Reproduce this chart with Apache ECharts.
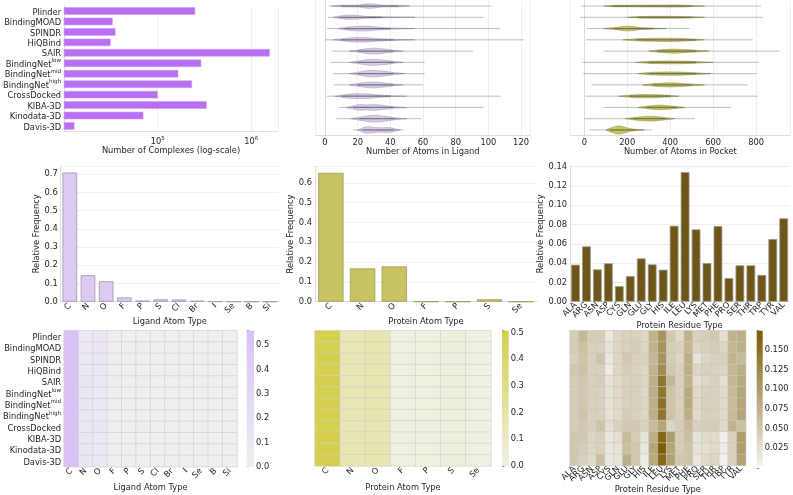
<!DOCTYPE html>
<html><head><meta charset="utf-8">
<script src="https://cdn.jsdelivr.net/npm/echarts@6/dist/echarts.min.js"></script>
<style>html,body{margin:0;padding:0;background:#fff}#c{width:793px;height:495px}</style>
</head><body><div id="c"></div>
<script>
// ---------------- DATA ----------------
const datasets = ['Plinder','BindingMOAD','SPINDR','HiQBind','SAIR','BindingNet^low','BindingNet^mid','BindingNet^high','CrossDocked','KIBA-3D','Kinodata-3D','Davis-3D'];
const complexCounts = [252000, 33000, 35400, 31400, 1580000, 292000, 166000, 233000, 100000, 334000, 70300, 12900];

// violin summaries: whisker extent and profile [value, relative half-width]
const ligandMin = [2.4, 1.8, 1.2, 0, 4, 3.5, 5, 5.5, 1.2, 8.6, 6.5, 17];
const ligandMax = [102, 97, 107, 122, 90.6, 61, 61, 60, 107.6, 97, 59, 48];
const ligandProfiles = [
  [[4,0],[10,0.14],[20,0.16],[25,0.36],[28,0.41],[31,0.32],[35,0.16],[45,0.14],[52,0]],
  [[5,0],[9,0.23],[14,0.36],[20,0.32],[24,0.18],[35,0.11],[55,0]],
  [[8,0],[12,0.21],[20,0.41],[27,0.41],[33,0.23],[40,0.11],[55,0]],
  [[5,0],[10,0.18],[17,0.39],[25,0.39],[33,0.21],[42,0.11],[55,0]],
  [[15,0],[20,0.18],[26,0.46],[30,0.52],[35,0.41],[42,0.18],[48,0]],
  [[15,0],[20,0.21],[26,0.48],[30,0.52],[35,0.43],[42,0.18],[48,0]],
  [[15,0],[20,0.25],[26,0.53],[30,0.57],[35,0.46],[42,0.2],[49,0]],
  [[15,0],[20,0.23],[26,0.48],[30,0.52],[35,0.41],[42,0.18],[48,0]],
  [[6,0],[10,0.18],[16,0.39],[22,0.43],[27,0.39],[33,0.21],[40,0.09],[50,0]],
  [[13,0],[17,0.25],[21,0.5],[25,0.44],[30,0.5],[36,0.36],[42,0.14],[50,0]],
  [[16,0],[21,0.27],[27,0.53],[31,0.59],[36,0.46],[43,0.18],[50,0]],
  [[20,0],[23,0.36],[26,0.59],[30,0.44],[35,0.39],[39,0.43],[42,0.28],[46,0]]
];
const pocketMin = [-15, -20, 14, 8, 89, -9, -5, 34, 5, 89, 2, 24];
const pocketMax = [823, 831, 490, 785, 909, 812, 803, 761, 808, 683, 516, 314];
const pocketProfiles = [
  [[90,0],[130,0.11],[200,0.12],[300,0.16],[400,0.18],[460,0.16],[500,0.09],[560,0]],
  [[200,0],[250,0.12],[330,0.18],[420,0.16],[500,0.11],[560,0]],
  [[90,0],[140,0.18],[180,0.36],[200,0.43],[225,0.36],[260,0.18],[320,0.07],[380,0]],
  [[180,0],[240,0.18],[320,0.27],[380,0.3],[440,0.25],[520,0.11],[560,0]],
  [[300,0],[340,0.18],[390,0.32],[420,0.36],[460,0.28],[520,0.16],[580,0]],
  [[240,0],[300,0.18],[360,0.23],[400,0.25],[450,0.23],[520,0.14],[600,0]],
  [[250,0],[300,0.2],[360,0.28],[400,0.3],[450,0.27],[520,0.14],[590,0]],
  [[270,0],[320,0.21],[370,0.34],[400,0.37],[440,0.3],[500,0.16],[560,0]],
  [[160,0],[210,0.18],[260,0.28],[300,0.3],[350,0.23],[400,0.12],[440,0]],
  [[250,0],[290,0.21],[330,0.37],[355,0.41],[390,0.32],[430,0.16],[470,0]],
  [[190,0],[230,0.21],[280,0.37],[310,0.43],[340,0.36],[380,0.18],[420,0]],
  [[100,0],[120,0.32],[150,0.67],[165,0.71],[185,0.53],[210,0.27],[240,0.11],[280,0]]
];

const ligandAtomTypes = ['C','N','O','F','P','S','Cl','Br','I','Se','B','Si'];
const ligandAtomFreq = [0.709,0.145,0.112,0.023,0.006,0.013,0.012,0.005,0.001,0.0002,0.0003,0.0002];
const proteinAtomTypes = ['C','N','O','F','P','S','Se'];
const proteinAtomFreq = [0.650,0.168,0.178,0.0005,0.0003,0.012,0.0001];
const residueTypes = ['ALA','ARG','ASN','ASP','CYS','GLN','GLU','GLY','HIS','ILE','LEU','LYS','MET','PHE','PRO','SER','THR','TRP','TYR','VAL'];
const residueFreq = [0.0384,0.0574,0.0335,0.0398,0.0162,0.0266,0.0449,0.0387,0.0332,0.0788,0.1345,0.0750,0.0401,0.0785,0.0245,0.0377,0.0377,0.0277,0.0650,0.0864];

const ligandHeat = [
  [0.55,0.08,0.09,0.012,0.002,0.006,0.005,0.001,0.0005,0,0,0],
  [0.55,0.085,0.095,0.010,0.003,0.007,0.005,0.001,0.0005,0,0,0],
  [0.56,0.08,0.09,0.011,0.002,0.006,0.005,0.001,0.0005,0,0,0],
  [0.55,0.085,0.095,0.012,0.002,0.006,0.005,0.001,0.0005,0,0,0],
  [0.54,0.09,0.08,0.014,0.001,0.007,0.006,0.001,0.0003,0,0,0],
  [0.55,0.09,0.08,0.012,0.001,0.006,0.006,0.001,0.0003,0,0,0],
  [0.55,0.09,0.08,0.012,0.001,0.006,0.006,0.001,0.0003,0,0,0],
  [0.55,0.09,0.08,0.012,0.001,0.006,0.006,0.001,0.0003,0,0,0],
  [0.55,0.08,0.09,0.012,0.002,0.007,0.005,0.001,0.0005,0,0,0],
  [0.54,0.09,0.075,0.012,0.001,0.006,0.006,0.001,0.0003,0,0,0],
  [0.55,0.09,0.075,0.012,0.001,0.006,0.006,0.001,0.0003,0,0,0],
  [0.55,0.09,0.07,0.013,0.001,0.005,0.005,0.001,0.0003,0,0,0]
];
const proteinHeat = [
  [0.495,0.155,0.165,0.002,0.002,0.012,0.001],
  [0.495,0.155,0.17,0.002,0.002,0.012,0.001],
  [0.50,0.155,0.165,0.002,0.002,0.011,0.001],
  [0.495,0.155,0.17,0.002,0.002,0.012,0.001],
  [0.50,0.155,0.165,0.002,0.002,0.012,0.001],
  [0.50,0.155,0.165,0.002,0.002,0.012,0.001],
  [0.50,0.155,0.165,0.002,0.002,0.012,0.001],
  [0.505,0.155,0.165,0.002,0.002,0.012,0.001],
  [0.495,0.155,0.17,0.002,0.002,0.013,0.001],
  [0.505,0.16,0.165,0.002,0.002,0.012,0.001],
  [0.507,0.16,0.165,0.002,0.002,0.012,0.001],
  [0.50,0.16,0.165,0.002,0.002,0.011,0.0]
];
const residueHeat = [
  [0.045,0.07,0.045,0.045,0.015,0.035,0.04,0.04,0.035,0.075,0.11,0.05,0.03,0.075,0.04,0.045,0.05,0.025,0.075,0.08],
  [0.045,0.06,0.04,0.04,0.02,0.035,0.04,0.045,0.035,0.075,0.11,0.045,0.04,0.07,0.035,0.04,0.045,0.035,0.07,0.08],
  [0.04,0.055,0.04,0.055,0.015,0.035,0.05,0.04,0.04,0.07,0.11,0.045,0.035,0.08,0.02,0.035,0.04,0.04,0.075,0.065],
  [0.05,0.06,0.04,0.04,0.01,0.035,0.045,0.04,0.035,0.075,0.12,0.05,0.04,0.08,0.035,0.04,0.04,0.035,0.07,0.08],
  [0.045,0.05,0.04,0.045,0.02,0.03,0.04,0.04,0.035,0.08,0.145,0.07,0.04,0.075,0.025,0.035,0.04,0.025,0.07,0.085],
  [0.045,0.05,0.04,0.04,0.02,0.03,0.04,0.04,0.035,0.08,0.145,0.055,0.04,0.085,0.03,0.04,0.04,0.03,0.065,0.09],
  [0.045,0.05,0.04,0.04,0.02,0.03,0.04,0.04,0.035,0.08,0.15,0.055,0.04,0.085,0.03,0.04,0.04,0.03,0.065,0.09],
  [0.045,0.055,0.04,0.04,0.02,0.03,0.045,0.04,0.035,0.08,0.145,0.055,0.04,0.08,0.03,0.04,0.04,0.03,0.065,0.09],
  [0.045,0.05,0.04,0.055,0.025,0.04,0.05,0.05,0.04,0.065,0.09,0.035,0.045,0.065,0.04,0.045,0.045,0.03,0.075,0.06],
  [0.05,0.05,0.035,0.04,0.015,0.025,0.065,0.045,0.02,0.08,0.16,0.1,0.045,0.06,0.02,0.03,0.03,0.005,0.04,0.1],
  [0.05,0.045,0.035,0.04,0.015,0.02,0.06,0.05,0.015,0.09,0.174,0.09,0.045,0.055,0.02,0.025,0.03,0.01,0.04,0.1],
  [0.05,0.04,0.03,0.06,0.015,0.02,0.08,0.05,0.01,0.085,0.16,0.095,0.05,0.055,0.015,0.03,0.035,0.003,0.04,0.095]
];

// ---------------- HELPERS ----------------
const FONT = 'DejaVu Sans';
const TXT = '#262626';
const FS = 8.3;
const AXC = '#d6d6d6';
const GRIDC = '#ebebeb';

function supLabel(v) {
  const m = String(v).split('^');
  return m.length > 1 ? '{a|' + m[0] + '}{s|' + m[1] + '}' : '{a|' + v + '}';
}
const supRich = {
  a: {fontSize: FS, color: TXT, fontFamily: FONT, lineHeight: 11, verticalAlign: 'bottom'},
  s: {fontSize: 5.6, color: TXT, fontFamily: FONT, lineHeight: 6, verticalAlign: 'top'}
};
function isMult(v, step) { const r = v / step; return Math.abs(r - Math.round(r)) < 1e-6; }
function fmtStep(step, dec) { return v => isMult(v, step) ? v.toFixed(dec) : ''; }

function heatData(mat) {
  const out = [];
  mat.forEach((row, r) => row.forEach((v, c) => out.push([c, r, v])));
  return out;
}
function flatMin(m) { return Math.min(...m.flat()); }
function flatMax(m) { return Math.max(...m.flat()); }

function violinSeries(gi, mins, maxs, profiles, fill, edge) {
  return {
    type: 'custom', xAxisIndex: gi, yAxisIndex: gi, silent: true,
    encode: {x: [0, 2], y: 1},
    data: mins.map((m, i) => [m, i, maxs[i]]),
    renderItem(params, api) {
      const i = params.dataIndex;
      const row = api.value(1);
      const a = api.coord([api.value(0), row]);
      const b = api.coord([api.value(2), row]);
      const half = api.size([0, 1])[1] / 2;
      const prof = profiles[i];
      const pts = [];
      prof.forEach(p => { const c = api.coord([p[0], row]); pts.push([c[0], c[1] - p[1] * half]); });
      for (let k = prof.length - 1; k >= 0; k--) { const p = prof[k]; const c = api.coord([p[0], row]); pts.push([c[0], c[1] + p[1] * half]); }
      const core0 = api.coord([prof[1][0], row]);
      const core1 = api.coord([prof[prof.length - 2][0], row]);
      return {type: 'group', children: [
        {type: 'polygon', shape: {points: pts, smooth: 0.35}, style: {fill: fill, stroke: edge, lineWidth: 0.5}},
        {type: 'line', shape: {x1: a[0], y1: a[1], x2: b[0], y2: b[1]}, style: {stroke: 'rgba(90,90,90,0.5)', lineWidth: 0.8}},
        {type: 'line', shape: {x1: core0[0], y1: core0[1], x2: core1[0], y2: core1[1]}, style: {stroke: 'rgba(60,60,60,0.45)', lineWidth: 1.3}}
      ]};
    }
  };
}

function colorbarSeries(gi, lo, hi, c0, c1) {
  return {
    type: 'custom', xAxisIndex: gi, yAxisIndex: gi, silent: true,
    encode: {x: [0, 2], y: [1, 3]},
    data: [[0, lo, 1, hi]],
    renderItem(params, api) {
      const p1 = api.coord([api.value(0), api.value(3)]);
      const p2 = api.coord([api.value(2), api.value(1)]);
      return {type: 'rect', shape: {x: p1[0], y: p1[1], width: p2[0] - p1[0], height: p2[1] - p1[1]},
        style: {fill: new echarts.graphic.LinearGradient(0, 1, 0, 0, [{offset: 0, color: c0}, {offset: 1, color: c1}])}};
    }
  };
}

const lbl = (extra) => Object.assign({fontSize: FS, color: TXT, fontFamily: FONT}, extra || {});
const nameStyle = {fontSize: FS, color: TXT, fontFamily: FONT};

// colormaps
const ligCmap = ['#efeef1', '#d8c1f5'];
const proCmap = ['#f0f0e2', '#d4d04c'];
const resCmap = ['#f4f2ee', '#7a5b05'];
const ligLo = flatMin(ligandHeat), ligHi = flatMax(ligandHeat);
const proLo = flatMin(proteinHeat), proHi = flatMax(proteinHeat);
const resLo = flatMin(residueHeat), resHi = flatMax(residueHeat);

// ---------------- OPTION ----------------
const grids = [
  {left: 61, top: 5.8, width: 217, height: 125.4},      // 0 complexes
  {left: 315.7, top: 0.4, width: 214.3, height: 135.2}, // 1 ligand violins
  {left: 570.7, top: 0.4, width: 219.3, height: 135.2}, // 2 pocket violins
  {left: 60.7, top: 166, width: 218.3, height: 135.7},  // 3 ligand atoms
  {left: 315, top: 166.3, width: 222, height: 135.4},   // 4 protein atoms
  {left: 570, top: 166, width: 219.2, height: 135.7},   // 5 residues
  {left: 61, top: 330.7, width: 176, height: 136},      // 6 ligand heat
  {left: 315, top: 330.7, width: 176, height: 135.3},   // 7 protein heat
  {left: 570, top: 330.7, width: 175.7, height: 135},   // 8 residue heat
  {left: 246.7, top: 330.7, width: 7.3, height: 136},   // 9 cb ligand
  {left: 502, top: 330.7, width: 6.7, height: 135.3},   // 10 cb protein
  {left: 756.7, top: 330.7, width: 6, height: 137.3}    // 11 cb residue
];

const catY = (gi, showLabels) => ({
  type: 'category', gridIndex: gi, data: datasets, inverse: true,
  axisTick: {show: false},
  axisLine: {show: gi < 3, lineStyle: {color: AXC, width: 0.8}},
  axisLabel: showLabels ? {show: true, interval: 0, margin: 3, formatter: supLabel, rich: supRich} : {show: false},
  splitLine: {show: false}
});

const xAxes = [
  {type: 'log', gridIndex: 0, min: 10000, max: 1930000, logBase: 10,
   axisLine: {show: true, lineStyle: {color: AXC, width: 0.8}}, axisTick: {show: false},
   axisLabel: {margin: 4, formatter: v => { const e = Math.log10(v); return (Math.abs(e - Math.round(e)) < 1e-6 && Math.round(e) >= 5) ? '{b|10}{s|' + Math.round(e) + '}' : ''; },
     rich: {b: {fontSize: FS, color: TXT, fontFamily: FONT, lineHeight: 11, verticalAlign: 'bottom'},
            s: {fontSize: 5.6, color: TXT, fontFamily: FONT, lineHeight: 6, verticalAlign: 'top'}}},
   splitLine: {show: true, lineStyle: {color: GRIDC, width: 0.8}},
   name: 'Number of Complexes (log-scale)', nameLocation: 'middle', nameGap: 13, nameTextStyle: nameStyle},
  {type: 'value', gridIndex: 1, min: -5.7, max: 125.5, splitNumber: 6,
   axisLine: {show: true, lineStyle: {color: AXC, width: 0.8}}, axisTick: {show: false},
   axisLabel: lbl({margin: 3, formatter: fmtStep(20, 0)}), splitLine: {show: true, lineStyle: {color: GRIDC, width: 0.8}},
   name: 'Number of Atoms in Ligand', nameLocation: 'middle', nameGap: 9, nameTextStyle: nameStyle},
  {type: 'value', gridIndex: 2, min: -63.4, max: 958, splitNumber: 5,
   axisLine: {show: true, lineStyle: {color: AXC, width: 0.8}}, axisTick: {show: false},
   axisLabel: lbl({margin: 3, formatter: fmtStep(200, 0)}), splitLine: {show: true, lineStyle: {color: GRIDC, width: 0.8}},
   name: 'Number of Atoms in Pocket', nameLocation: 'middle', nameGap: 9, nameTextStyle: nameStyle},
  {type: 'category', gridIndex: 3, data: ligandAtomTypes, axisTick: {show: false},
   axisLine: {show: true, lineStyle: {color: AXC, width: 0.8}}, axisLabel: lbl({rotate: 45, interval: 0, margin: 3}),
   name: 'Ligand Atom Type', nameLocation: 'middle', nameGap: 12, nameTextStyle: nameStyle},
  {type: 'category', gridIndex: 4, data: proteinAtomTypes, axisTick: {show: false},
   axisLine: {show: true, lineStyle: {color: AXC, width: 0.8}}, axisLabel: lbl({rotate: 45, interval: 0, margin: 3}),
   name: 'Protein Atom Type', nameLocation: 'middle', nameGap: 12, nameTextStyle: nameStyle},
  {type: 'category', gridIndex: 5, data: residueTypes, axisTick: {show: false},
   axisLine: {show: true, lineStyle: {color: AXC, width: 0.8}}, axisLabel: lbl({rotate: 45, interval: 0, margin: 2}),
   name: 'Protein Residue Type', nameLocation: 'middle', nameGap: 19, nameTextStyle: nameStyle},
  {type: 'category', gridIndex: 6, data: ligandAtomTypes, axisTick: {show: false}, axisLine: {show: false},
   axisLabel: lbl({rotate: 45, interval: 0, margin: 3}), splitLine: {show: false},
   name: 'Ligand Atom Type', nameLocation: 'middle', nameGap: 17, nameTextStyle: nameStyle},
  {type: 'category', gridIndex: 7, data: proteinAtomTypes, axisTick: {show: false}, axisLine: {show: false},
   axisLabel: lbl({rotate: 45, interval: 0, margin: 3}), splitLine: {show: false},
   name: 'Protein Atom Type', nameLocation: 'middle', nameGap: 18, nameTextStyle: nameStyle},
  {type: 'category', gridIndex: 8, data: residueTypes, axisTick: {show: false}, axisLine: {show: false},
   axisLabel: lbl({rotate: 45, interval: 0, margin: 2}), splitLine: {show: false},
   name: 'Protein Residue Type', nameLocation: 'middle', nameGap: 18, nameTextStyle: nameStyle},
  {type: 'value', gridIndex: 9, min: 0, max: 1, show: false},
  {type: 'value', gridIndex: 10, min: 0, max: 1, show: false},
  {type: 'value', gridIndex: 11, min: 0, max: 1, show: false}
];

const freqY = (gi, max, step, dec, gap) => ({
  type: 'value', gridIndex: gi, min: 0, max: max, interval: step,
  axisLine: {show: true, lineStyle: {color: AXC, width: 0.8}}, axisTick: {show: false},
  axisLabel: lbl({margin: 3, formatter: fmtStep(step, dec)}),
  splitLine: {show: true, lineStyle: {color: GRIDC, width: 0.8}},
  name: 'Relative Frequency', nameLocation: 'middle', nameGap: gap, nameRotate: 90, nameTextStyle: nameStyle
});
const cbY = (gi, max, step, dec) => ({
  type: 'value', gridIndex: gi, position: 'right', min: 0, max: max, interval: step,
  axisLine: {show: false}, axisTick: {show: true, length: 2.5, lineStyle: {color: '#444', width: 0.6}},
  axisLabel: lbl({margin: 2, formatter: v => (isMult(v, step) && v > 1e-9 || (v === 0 && dec === 1)) ? v.toFixed(dec) : ''}),
  splitLine: {show: false}
});

const yAxes = [
  catY(0, true), catY(1, false), catY(2, false),
  freqY(3, 0.745, 0.1, 1, 11), freqY(4, 0.683, 0.1, 1, 12), freqY(5, 0.1407, 0.02, 2, 19),
  Object.assign(catY(6, true), {axisLine: {show: false}}), catY(7, false), catY(8, false),
  cbY(9, ligHi, 0.1, 1), cbY(10, proHi, 0.1, 1), cbY(11, resHi, 0.025, 3)
];

const series = [
  {type: 'bar', xAxisIndex: 0, yAxisIndex: 0, data: complexCounts, barWidth: '72%', silent: true,
   itemStyle: {color: '#b86ff2', borderColor: '#cf9bf7', borderWidth: 0.6}},
  violinSeries(1, ligandMin, ligandMax, ligandProfiles, '#dacbee', '#9d90ad'),
  violinSeries(2, pocketMin, pocketMax, pocketProfiles, '#cbc65c', '#8a8645'),
  {type: 'bar', xAxisIndex: 3, yAxisIndex: 3, data: ligandAtomFreq, barWidth: '80%', silent: true,
   itemStyle: {color: '#dccbf0', borderColor: '#a092b0', borderWidth: 0.8}},
  {type: 'bar', xAxisIndex: 4, yAxisIndex: 4, data: proteinAtomFreq, barWidth: '80%', silent: true,
   itemStyle: {color: '#c8c464', borderColor: '#9c9a5c', borderWidth: 0.8}},
  {type: 'bar', xAxisIndex: 5, yAxisIndex: 5, data: residueFreq, barWidth: '80%', silent: true,
   itemStyle: {color: '#6d5618', borderColor: '#a09a8c', borderWidth: 0.8}},
  {type: 'heatmap', xAxisIndex: 6, yAxisIndex: 6, data: heatData(ligandHeat), silent: true,
   itemStyle: {borderColor: '#cfcfcf', borderWidth: 0.6}},
  {type: 'heatmap', xAxisIndex: 7, yAxisIndex: 7, data: heatData(proteinHeat), silent: true,
   itemStyle: {borderColor: '#cfcfcf', borderWidth: 0.6}},
  {type: 'heatmap', xAxisIndex: 8, yAxisIndex: 8, data: heatData(residueHeat), silent: true,
   itemStyle: {borderColor: '#c8c8c8', borderWidth: 0.6}},
  colorbarSeries(9, ligLo, ligHi, ligCmap[0], ligCmap[1]),
  colorbarSeries(10, proLo, proHi, proCmap[0], proCmap[1]),
  colorbarSeries(11, resLo, resHi, resCmap[0], resCmap[1])
];

const option = {
  animation: false,
  backgroundColor: '#ffffff',
  textStyle: {fontFamily: FONT},
  grid: grids,
  xAxis: xAxes,
  yAxis: yAxes,
  visualMap: [
    {type: 'continuous', show: false, seriesIndex: 6, dimension: 2, min: ligLo, max: ligHi, inRange: {color: ligCmap}},
    {type: 'continuous', show: false, seriesIndex: 7, dimension: 2, min: proLo, max: proHi, inRange: {color: proCmap}},
    {type: 'continuous', show: false, seriesIndex: 8, dimension: 2, min: resLo, max: resHi, inRange: {color: resCmap}}
  ],
  series: series
};

const chart = echarts.init(document.getElementById('c'), null, {renderer: 'canvas', width: 793, height: 495});
chart.setOption(option);
</script>
</body></html>
